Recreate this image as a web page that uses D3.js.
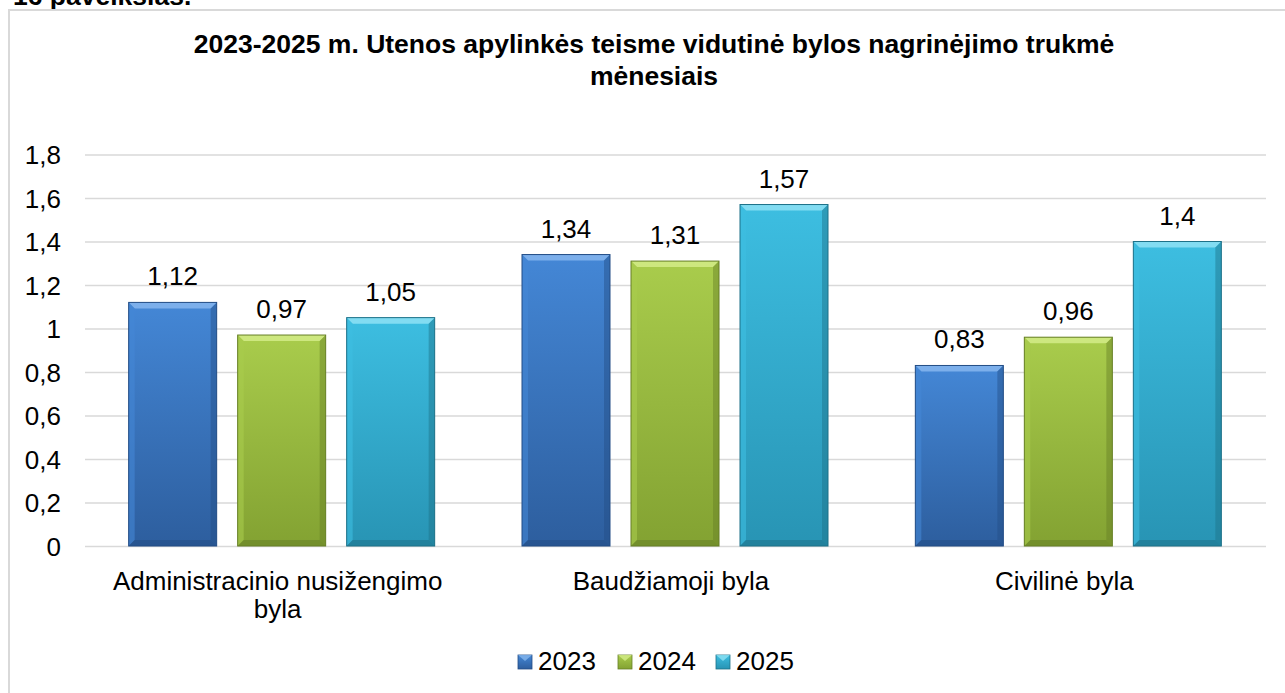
<!DOCTYPE html>
<html><head><meta charset="utf-8">
<script src="https://cdn.jsdelivr.net/npm/d3@7"></script>
<style>body{margin:0;background:#fff;}svg{display:block;font-family:"Liberation Sans",Arial,sans-serif;}</style>
</head><body><svg id="c" width="1285" height="693"></svg>
<script>
const categories = [["Administracinio nusižengimo", "byla"], ["Baudžiamoji byla"], ["Civilinė byla"]];
const series = ["2023", "2024", "2025"];
const values2023 = [1.12, 1.34, 0.83];
const values2024 = [0.97, 1.31, 0.96];
const values2025 = [1.05, 1.57, 1.4];
const yTicks = [0, 0.2, 0.4, 0.6, 0.8, 1, 1.2, 1.4, 1.6, 1.8];
const titleLines = ["2023-2025 m. Utenos apylinkės teisme vidutinė bylos nagrinėjimo trukmė", "mėnesiais"];
const caption = "16 paveikslas.";
const colors = [
  {top:"#4487d6", bottom:"#2d5e9e", light:"#86b6ee", dark:"#234d85"},
  {top:"#a9cc4c", bottom:"#83a232", light:"#d3ec88", dark:"#667f26"},
  {top:"#3dbee1", bottom:"#2894b4", light:"#8ee2f4", dark:"#1d7188"}
];
const allVals = [values2023, values2024, values2025];
const FS = 26;

const svg = d3.select("#c");
const defs = svg.append("defs");
colors.forEach((c,i)=>{
  const g = defs.append("linearGradient").attr("id","g"+i).attr("x1",0).attr("y1",0).attr("x2",0).attr("y2",1);
  g.append("stop").attr("offset","0%").attr("stop-color",c.top);
  g.append("stop").attr("offset","100%").attr("stop-color",c.bottom);
});

// caption (cut off at top as in the reference)
svg.append("text").attr("x",13).attr("y",5).attr("font-size",26.5).attr("font-weight","bold").text(caption);
// frame
svg.append("rect").attr("x",9).attr("y",10).attr("width",1290).attr("height",700).attr("fill","#fff").attr("stroke","#d9d9d9").attr("stroke-width",2);

svg.selectAll(".title").data(titleLines).join("text")
  .attr("x",654).attr("y",(d,i)=>53+i*32).attr("text-anchor","middle")
  .attr("font-size",26.5).attr("font-weight","bold").text(d=>d);

const x0 = d3.scaleBand().domain(d3.range(categories.length)).range([85,1265]);
const y = d3.scaleLinear().domain([0,1.8]).range([546,154.5]);
const barW = 88, gap = 21;

const gy = svg.append("g").attr("transform","translate(85,0)").call(d3.axisLeft(y).tickValues(yTicks).tickSize(-1181).tickFormat(d=>String(d).replace(".",",")));
gy.select(".domain").remove();
gy.selectAll(".tick line").attr("stroke","#d9d9d9").attr("stroke-width",1.5);
gy.selectAll(".tick text").attr("font-size",FS).attr("fill","#000").attr("x",-24).attr("dy","0.35em").attr("font-family","Liberation Sans, Arial, sans-serif");

const bars = [];
categories.forEach((c,ci)=>{
  const cx = x0(ci)+x0.bandwidth()/2;
  series.forEach((s,si)=>{
    const xl = cx + (si-1)*(barW+gap) - barW/2;
    bars.push({ci,si,x:xl,v:allVals[si][ci]});
  });
});
const bg = svg.append("g");
bars.forEach(b=>{
  const c = colors[b.si];
  const yt = y(b.v), yb = y(0), x1 = b.x, x2 = b.x+barW, e = 6;
  const g = bg.append("g");
  g.append("rect").attr("x",x1).attr("y",yt).attr("width",barW).attr("height",yb-yt).attr("fill","url(#g"+b.si+")");
  g.append("polygon").attr("points",[[x1,yt],[x2,yt],[x2-e,yt+e],[x1+e,yt+e]].join(" ")).attr("fill",c.light).attr("opacity",0.85);
  g.append("polygon").attr("points",[[x1,yt],[x1+e,yt+e],[x1+e,yb-e],[x1,yb]].join(" ")).attr("fill",c.top).attr("opacity",0.6);
  g.append("polygon").attr("points",[[x2,yt],[x2-e,yt+e],[x2-e,yb-e],[x2,yb]].join(" ")).attr("fill",c.dark).attr("opacity",0.45);
  g.append("polygon").attr("points",[[x1,yb],[x1+e,yb-e],[x2-e,yb-e],[x2,yb]].join(" ")).attr("fill",c.dark).attr("opacity",0.55);
  g.append("rect").attr("x",x1).attr("y",yt).attr("width",barW).attr("height",yb-yt).attr("fill","none").attr("stroke",c.dark).attr("stroke-width",1);
  svg.append("text").attr("x",x1+barW/2).attr("y",yt-17).attr("text-anchor","middle").attr("font-size",FS).text(String(b.v).replace(".",","));
});

categories.forEach((c,ci)=>{
  const cx = x0(ci)+x0.bandwidth()/2 - 4;
  c.forEach((line,li)=>{
    svg.append("text").attr("x",cx).attr("y",590+li*28).attr("text-anchor","middle").attr("font-size",FS).text(line);
  });
});

// legend
const legX = [518, 618, 716];
series.forEach((s,i)=>{
  const c = colors[i];
  const lx = legX[i], ly = 655;
  svg.append("rect").attr("x",lx).attr("y",ly).attr("width",14).attr("height",14).attr("fill","url(#g"+i+")").attr("stroke",c.dark).attr("stroke-width",0.8);
  svg.append("polygon").attr("points",[[lx,ly],[lx+14,ly],[lx+7,ly+6]].join(" ")).attr("fill",c.light).attr("opacity",0.8);
  svg.append("text").attr("x",lx+20).attr("y",670).attr("font-size",FS).text(s);
});
</script></body></html>
